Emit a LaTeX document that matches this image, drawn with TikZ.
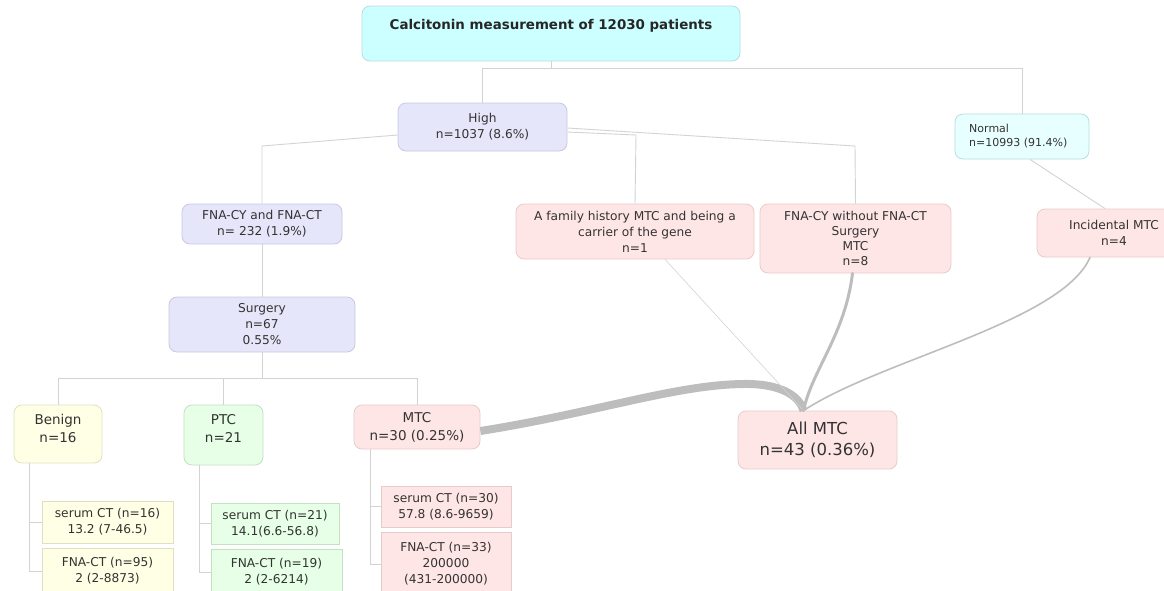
\documentclass[tikz,border=0pt]{standalone}
\usepackage{fontspec}
\setmainfont{DejaVu Sans}
\definecolor{txt}{HTML}{333333}
\definecolor{cyanA}{HTML}{CCFFFF}
\definecolor{cyanB}{HTML}{E8FFFF}
\definecolor{cyanD}{HTML}{B5DEDE}
\definecolor{lav}{HTML}{E6E6FA}
\definecolor{lavD}{HTML}{C8C8E0}
\definecolor{pink}{HTML}{FFE6E6}
\definecolor{pinkD}{HTML}{E8CACA}
\definecolor{yel}{HTML}{FFFFE6}
\definecolor{yelD}{HTML}{E0E0C0}
\definecolor{grn}{HTML}{E6FFE6}
\definecolor{grnD}{HTML}{C2E0C2}
\definecolor{tree}{HTML}{D3D3D3}
\definecolor{crv}{HTML}{BDBDBD}
\newcommand\fsA{\fontsize{12.2}{16}\selectfont}
\newcommand\fsS{\fontsize{11}{14}\selectfont}
\newcommand\fsM{\fontsize{13.5}{18}\selectfont}
\newcommand\fsL{\fontsize{16.5}{21}\selectfont}
\newcommand\fsT{\fontsize{13.4}{16}\selectfont\bfseries}
\tikzset{
  box/.style={rounded corners=8pt, line width=0.8pt, inner sep=0pt, align=center, text=txt, font=\fsA},
  sbox/.style={line width=0.8pt, inner sep=0pt, align=center, text=txt, font=\fsA},
  lavbox/.style={box, fill=lav, draw=lavD},
  pinkbox/.style={box, fill=pink, draw=pinkD},
  lbl/.style={inner sep=0pt, align=center, text=txt},
  treeline/.style={draw=tree, line width=0.9pt},
  curve/.style={draw=crv, line cap=round}
}
\begin{document}
\begin{tikzpicture}[x=1pt,y=-1pt]
\useasboundingbox (0,0) rectangle (1164,590);
\clip (0,0) rectangle (1164,590);
% boxes
\node[box, fill=cyanA, draw=cyanD, minimum width=378, minimum height=55] (top) at (551,33.5) {};
\node[lbl, font=\fsT, text=black!85] (topt) at (551,26) {Calcitonin measurement of 12030 patients};
\node[lavbox, minimum width=169, minimum height=48] (high) at (482.5,127) {High\\n=1037 (8.6\%)};
\node[box, fill=cyanB, draw=cyanD, minimum width=134, minimum height=45] (normal) at (1022,136.5) {};
\node[lbl, font=\fsS, align=left, anchor=west] (normalt) at (969,136) {Normal\\n=10993 (91.4\%)};
\node[lavbox, minimum width=160, minimum height=40] (fna) at (262,224) {FNA-CY and FNA-CT\\n= 232 (1.9\%)};
\node[lavbox, minimum width=186, minimum height=55] (surg) at (262,324.5) {Surgery\\n=67\\0.55\%};
\node[pinkbox, minimum width=238, minimum height=55] (fam) at (635,231.5) {A family history MTC and being a\\carrier of the gene\\n=1};
\node[pinkbox, minimum width=191, minimum height=69, font={\fontsize{12.2}{15}\selectfont}] (fnawo) at (855.5,238.5) {FNA-CY without FNA-CT\\Surgery\\MTC\\n=8};
\node[pinkbox, minimum width=154, minimum height=48] (inc) at (1114,233) {Incidental MTC\\n=4};
\node[box, fill=yel, draw=yelD, minimum width=88, minimum height=58] (benign) at (58,434) {};
\node[lbl, font=\fsM] (benignt) at (58,428) {Benign\\n=16};
\node[box, fill=grn, draw=grnD, minimum width=79, minimum height=60] (ptc) at (223.5,435) {};
\node[lbl, font=\fsM] (ptct) at (223.5,428) {PTC\\n=21};
\node[pinkbox, font=\fsM, minimum width=126, minimum height=44] (mtc) at (417,427) {MTC\\n=30 (0.25\%)};
\node[pinkbox, font=\fsL, minimum width=159, minimum height=58] (allmtc) at (817.5,440) {All MTC\\n=43 (0.36\%)};
% sub boxes
\node[sbox, fill=yel, draw=yelD, minimum width=131, minimum height=42] (bs) at (107.5,522) {serum CT (n=16)\\13.2 (7-46.5)};
\node[sbox, fill=yel, draw=yelD, minimum width=131, minimum height=46] (bf) at (107.5,571) {FNA-CT (n=95)\\2 (2-8873)};
\node[sbox, fill=grn, draw=grnD, minimum width=128, minimum height=41] (ps) at (275,523.5) {serum CT (n=21)\\14.1(6.6-56.8)};
\node[sbox, fill=grn, draw=grnD, minimum width=131, minimum height=46] (pf) at (276.5,572) {FNA-CT (n=19)\\2 (2-6214)};
\node[sbox, fill=pink, draw=pinkD, minimum width=130, minimum height=41] (ms) at (446,506.5) {serum CT (n=30)\\57.8 (8.6-9659)};
\node[sbox, fill=pink, draw=pinkD, minimum width=130, minimum height=64] (mf) at (446,564) {FNA-CT (n=33)\\200000\\(431-200000)};
% junctions
\coordinate (j1) at (551,68);
\coordinate (h1) at (262,146);
\coordinate (h2) at (636,135);
\coordinate (h3) at (855,146);
\coordinate (j2) at (262,378);
\coordinate (amin) at ([xshift=-14]allmtc.north);
\coordinate (c1) at (750,384);
% tree lines
\draw[treeline] (top.south) -- (j1);
\draw[treeline] (high.north) -- (high.north |- j1) -| (normal.north);
\draw[treeline] ([yshift=-8]high.west) -- (h1) -- (fna.north);
\draw[treeline] ([yshift=-1]high.east) -- (h3) -- (fnawo.north);
\draw[treeline] ([yshift=-5]high.east) -- (h2) -- (fam.north);
\draw[treeline] ([xshift=8]normal.south) -- ([xshift=-9]inc.north);
\draw[treeline] (fna.south) -- (surg.north);
\draw[treeline] (surg.south) -- (j2);
\draw[treeline] (benign.north) -- (benign.north |- j2) -| (mtc.north);
\draw[treeline] (ptc.north) -- (ptc.north |- j2);
\draw[treeline] ([xshift=16]benign.south west) |- (bs.west);
\draw[treeline] ([xshift=16]benign.south west) |- (bf.west);
\draw[treeline] ([xshift=16]ptc.south west) |- (ps.west);
\draw[treeline] ([xshift=16]ptc.south west) |- (pf.west);
\draw[treeline] ([xshift=17]mtc.south west) |- (ms.west);
\draw[treeline] ([xshift=17]mtc.south west) |- (mf.west);
% curves into All MTC
\draw[curve, line width=8pt, line cap=butt] ([yshift=-4]mtc.east) .. controls (600,412) and (680,383) .. (c1) .. controls (785,385) and (800,398) .. (amin);
\draw[curve, draw=tree, line width=0.6pt] ([xshift=30]fam.south) -- (amin);
\draw[curve, line width=3pt] ([xshift=-3]fnawo.south) .. controls (845,335) and (812,370) .. (amin);
\draw[curve, line width=1.6pt] ([xshift=-24]inc.south) .. controls (1062,322) and (880,360) .. (amin);
\end{tikzpicture}
\end{document}
